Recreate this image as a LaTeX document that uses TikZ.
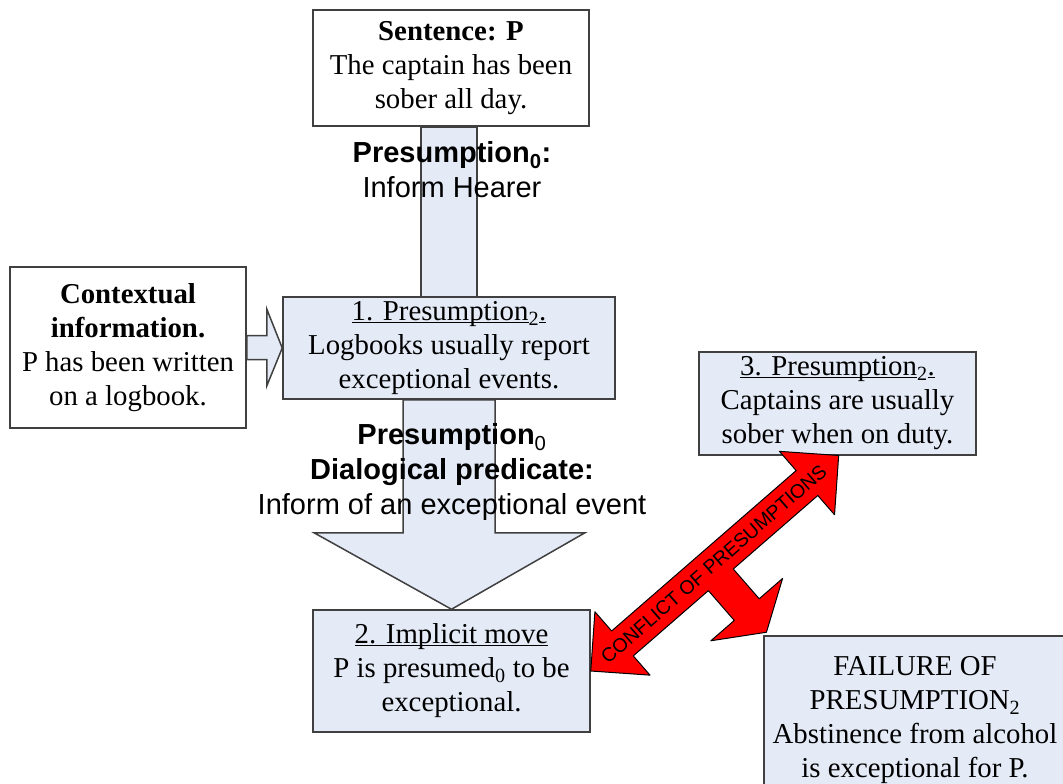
\documentclass[tikz,border=0pt]{standalone}
\usepackage{fontspec}
\setmainfont{Liberation Serif}
\setsansfont{Liberation Sans}
\usepackage{tikz}
\usetikzlibrary{calc}
\definecolor{lightblue}{RGB}{228,235,247}
\definecolor{boxline}{RGB}{64,64,64}
\newcommand{\ulbox}[1]{\underline{\smash{#1}}\vphantom{#1}}

\begin{document}
\begin{tikzpicture}[x=1pt,y=-1pt]
          \tikzstyle{every node}=[align=center,inner sep=0pt,font=\fontsize{28.8}{34}\selectfont]
          \tikzstyle{plainbox}=[draw=boxline,fill=white,line width=1.5pt]
          \tikzstyle{bluebox}=[plainbox,fill=lightblue]
          \tikzstyle{bluearrow}=[draw=boxline,fill=lightblue,line width=1.5pt]
          \tikzstyle{redarrow}=[draw=black,fill=red,line width=1pt,line join=round]
          \tikzstyle{overtext}=[font=\sffamily\fontsize{29}{35}\selectfont]
          \useasboundingbox (0,0) rectangle (1063,784);
          \clip (0,0) rectangle (1063,784);
          %
          \node [plainbox,minimum width=276,minimum height=116] (sent) at (451,68)
                {\textbf{Sentence: P}\\The captain has been\\sober all day.};
          \node [plainbox,minimum width=236,minimum height=161] (ctx) at (128,347.5)
                {\textbf{Contextual}\\\textbf{information.}\\P has been written\\on a logbook.};
          \node [bluebox,minimum width=332,minimum height=102] (p1) at (449,348)
                {\ulbox{1. Presumption}\textsubscript{2}\ulbox{.}\\Logbooks usually report\\exceptional events.};
          \node [bluebox,minimum width=277,minimum height=122] (p2) at (451.5,671)
                {\ulbox{2. Implicit move}\\P is presumed\textsubscript{0} to be\\exceptional.};
          \node [bluebox,minimum width=277,minimum height=103] (p3) at (837.5,403.5)
                {\ulbox{3. Presumption}\textsubscript{2}\ulbox{.}\\Captains are usually\\sober when on duty.};
          \node [bluebox,minimum width=302,minimum height=168] (fail) at (915,720)
                {FAILURE OF\\PRESUMPTION\textsubscript{2}\\Abstinence from alcohol\\is exceptional for P.};
          %
          \draw [bluearrow] ($(sent.south -| p1.north)+(-28,0)$) rectangle ($(p1.north)+(28,0)$);
          \draw [bluearrow] ($(ctx.east)+(0,-12)$) -- ++(20,0) -- ++(0,-26.5) -- (p1.west)
                -- ($(ctx.east)+(20,38.5)$) -- ++(0,-26.5) -- ($(ctx.east)+(0,12)$) -- cycle;
          \draw [bluearrow] ($(p1.south)+(-46,0)$) -- ++(0,133) -- ++(-89,0) -- (p2.north)
                -- ($(p1.south)+(136,133)$) -- ++(-90,0) -- ($(p1.south)+(46,0)$) -- cycle;
          %
          \node [overtext] (lbl0) at (452,170) {\textbf{Presumption\textsubscript{0}:}\\Inform Hearer};
          \node [overtext] (lbl1) at (452,472)
                {\textbf{Presumption}\textsubscript{0}\\\textbf{Dialogical predicate:}\\Inform of an exceptional event};
          %
          \begin{scope}[shift={(p2.east)},rotate=41]
            \draw [redarrow] (0,0) -- (42,-42) -- (42,-16.5) -- (286.5,-16.5) -- (286.5,-42)
                -- (328.5,0) -- (286.5,42) -- (286.5,16.5) -- (174.5,16.5) -- (174.5,56)
                -- (205.5,56) -- (158,86) -- (110.5,56) -- (141.5,56) -- (141.5,16.5)
                -- (42,16.5) -- (42,42) -- cycle;
            \node [rotate=41,font=\sffamily\fontsize{19.5}{22}\selectfont] (conflict) at (163,0)
                {CONFLICT OF PRESUMPTIONS};
          \end{scope}
\end{tikzpicture}
\end{document}
